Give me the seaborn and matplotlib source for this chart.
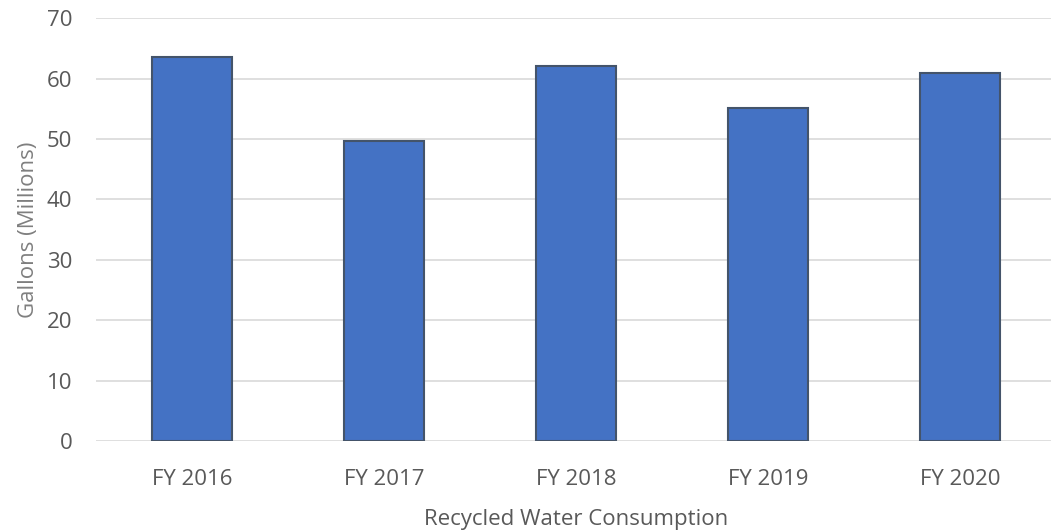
import matplotlib
matplotlib.use("Agg")
import matplotlib.pyplot as plt
import seaborn as sns
import pandas as pd

# values
years = ["FY 2016", "FY 2017", "FY 2018", "FY 2019", "FY 2020"]
gallons = [63.6, 49.7, 62.1, 55.1, 60.9]

df = pd.DataFrame({"year": years, "gallons": gallons})

sns.set_style("white")
plt.rcParams["font.family"] = ["Open Sans", "DejaVu Sans"]
text_color = "#595959"

fig = plt.figure(figsize=(10.51, 5.31), dpi=100)
# plot area runs slightly past the right edge, like the reference
ax = fig.add_axes([0.0913, 0.169, 0.9134, 0.797])

sns.barplot(data=df, x="year", y="gallons", color="#4472C4", width=0.415,
            edgecolor="#44546A", linewidth=1.5, saturation=1, ax=ax, zorder=3)

ax.set_xlim(-0.5, 4.5)
ax.set_ylim(0, 70)
ax.set_yticks(range(0, 71, 10))
ax.yaxis.grid(True, color="#D9D9D9", linewidth=1.2, zorder=0)
ax.set_axisbelow(True)
for s in ax.spines.values():
    s.set_visible(False)
ax.tick_params(axis="both", length=0, labelsize=16, colors=text_color)
ax.tick_params(axis="x", pad=20)
ax.tick_params(axis="y", pad=17)

ax.set_xlabel("Recycled Water Consumption", fontsize=16, color=text_color, labelpad=14)
ax.set_ylabel("Gallons (Millions)", fontsize=16, color="#7F7F7F", labelpad=6)

fig.savefig("out.png", dpi=100)
